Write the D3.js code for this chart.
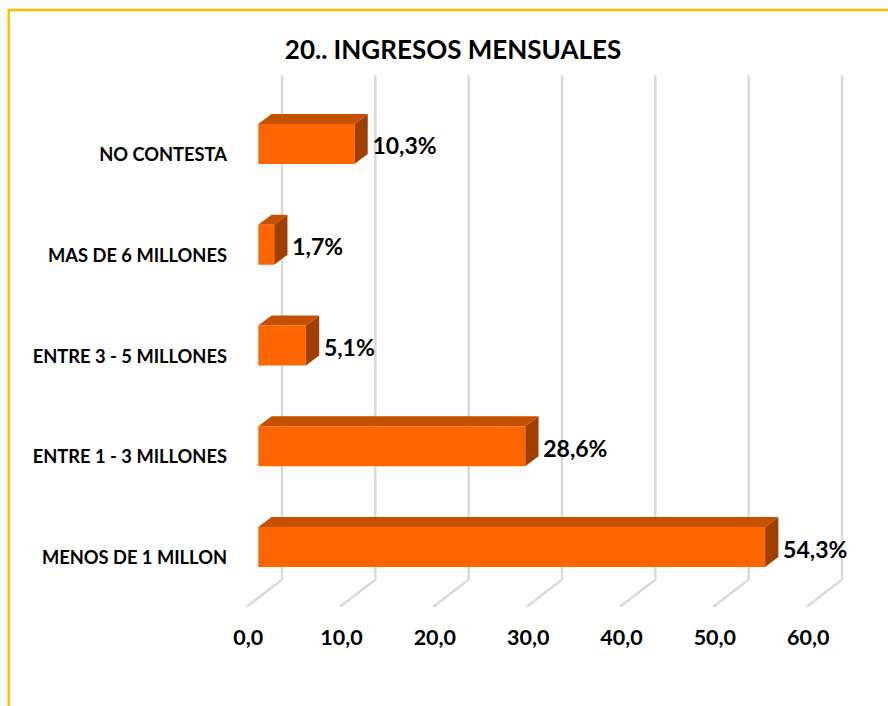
<!DOCTYPE html>
<html>
<head>
<meta charset="utf-8">
<script src="https://cdn.jsdelivr.net/npm/d3@7"></script>
<style>
    body { margin: 0; background: #fff; }
    svg text { font-family: Lato, "Open Sans", sans-serif; font-weight: bold; fill: #000; }
</style>
</head>
<body>
<svg class="js-d3-container" width="888" height="706"></svg>
<script>
(() => {
    // categories from top to bottom, as shown in the chart
    const categories = [
        'NO CONTESTA',
        'MAS DE 6 MILLONES',
        'ENTRE 3 - 5 MILLONES',
        'ENTRE 1 - 3 MILLONES',
        'MENOS DE 1 MILLON',
    ];
    const values = [10.3, 1.7, 5.1, 28.6, 54.3];
    const tickValues = [0, 10, 20, 30, 40, 50, 60];
    const title = '20.. INGRESOS MENSUALES';

    const data = categories.map((c, i) => ({ category: c, value: values[i] }));

    const fmt = v => d3.format('.1f')(v).replace('.', ',');

    const svg = d3.select('.js-d3-container');

    // chart frame (yellow border, runs off the right and bottom edge)
    svg.append('rect')
        .attr('x', 8.7)
        .attr('y', 10)
        .attr('width', 900)
        .attr('height', 720)
        .style('fill', 'none')
        .style('stroke', '#ffc000')
        .style('stroke-width', 2.5);

    // x scale is for the front face of the bars
    const x = d3.scaleLinear()
        .domain([0, 60])
        .range([258.3, 818.3]);

    const y = d3.scalePoint()
        .domain(categories)
        .range([93.6, 597.4])
        .padding(0.5);

    const barH = 40;
    const depth = { dx: 13.3, dy: -10 };   // bar depth
    const back = { dx: 23.7, dy: -17.7 };  // back wall offset from bar front
    const front = { dx: -11.6, dy: 9.3 };  // front edge of floor
    const gridTop = 75;
    const floorY = y.range()[1];

    // gridlines: vertical on back wall, then diagonal across the floor
    svg.append('g')
        .selectAll('path')
        .data(tickValues)
        .join('path')
        .attr('d', v => {
            const bx = x(v) + back.dx;
            const by = floorY + back.dy;
            return `M${bx},${gridTop}L${bx},${by}L${x(v) + front.dx},${floorY + front.dy}`;
        })
        .style('fill', 'none')
        .style('stroke', '#d9d9d9')
        .style('stroke-width', 2.5);

    // bars
    const bars = svg.append('g')
        .selectAll('g')
        .data(data)
        .join('g');

    bars.append('path')
        .attr('d', d => {
            const x0 = x(0), x1 = x(d.value), t = y(d.category) - barH / 2;
            return `M${x0},${t}L${x1},${t}L${x1 + depth.dx},${t + depth.dy}L${x0 + depth.dx},${t + depth.dy}Z`;
        })
        .style('fill', '#c55000');

    bars.append('path')
        .attr('d', d => {
            const x1 = x(d.value), t = y(d.category) - barH / 2, b = t + barH;
            return `M${x1},${t}L${x1 + depth.dx},${t + depth.dy}L${x1 + depth.dx},${b + depth.dy}L${x1},${b}Z`;
        })
        .style('fill', '#a04000');

    bars.append('rect')
        .attr('x', x(0))
        .attr('y', d => y(d.category) - barH / 2)
        .attr('width', d => x(d.value) - x(0))
        .attr('height', barH)
        .style('fill', '#ff6600');

    // value labels
    bars.append('text')
        .attr('x', d => x(d.value) + 18)
        .attr('y', d => y(d.category) + 10.5)
        .style('font-size', '23px')
        .text(d => fmt(d.value) + '%');

    // x axis labels
    const xAxis = svg.append('g')
        .attr('transform', `translate(${front.dx + 1}, 645)`)
        .call(d3.axisBottom(x).tickValues(tickValues).tickSize(0).tickFormat(fmt));
    xAxis.select('.domain').remove();
    xAxis.selectAll('text')
        .attr('y', 0)
        .attr('dy', 0)
        .style('font-size', '21.5px')
        .style('font-family', 'Lato, sans-serif');

    // category labels
    const yAxis = svg.append('g')
        .attr('transform', 'translate(227, 0)')
        .call(d3.axisLeft(y).tickSize(0));
    yAxis.select('.domain').remove();
    yAxis.selectAll('text')
        .attr('x', 0)
        .attr('dy', 0)
        .attr('y', 16.5)
        .style('font-size', '18.3px')
        .style('font-family', 'Lato, sans-serif');

    // title
    svg.append('text')
        .attr('x', 453)
        .attr('y', 59)
        .attr('text-anchor', 'middle')
        .style('font-size', '26px')
        .text(title);
})();
</script>
</body>
</html>
